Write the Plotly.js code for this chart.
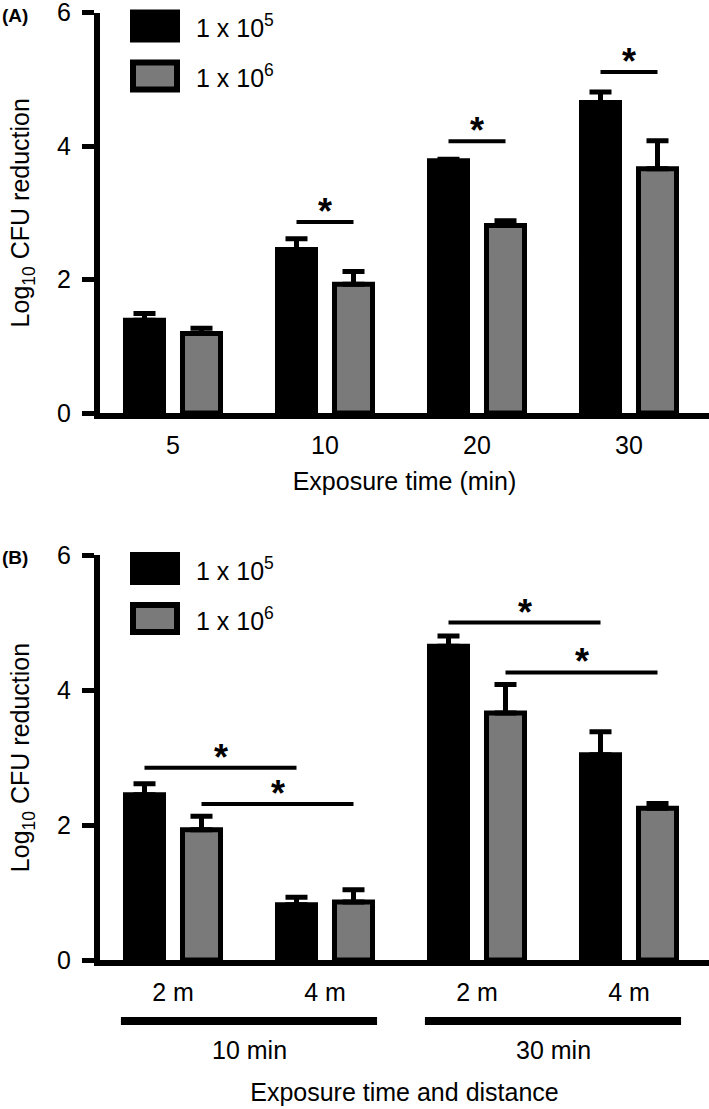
<!DOCTYPE html>
<html><head><meta charset="utf-8">
<script src="https://cdn.plot.ly/plotly-3.0.1.min.js"></script>
<style>html,body{margin:0;padding:0;background:#fff}</style>
</head><body>
<div id="chart" style="width:709px;height:1109px"></div>
<script>
// ---------- data ----------
const seriesNames = ['1 x 10<sup>5</sup>', '1 x 10<sup>6</sup>'];
// Panel A
const timeLabels = ['5', '10', '20', '30'];
const aLow = [1.39, 2.45, 3.78, 4.65];
const aLowErr = [0.10, 0.16, 0.02, 0.16];
const aHigh = [1.19, 1.93, 2.81, 3.66];
const aHighErr = [0.08, 0.19, 0.07, 0.42];
// Panel B
const distLabels = ['2 m', '4 m', '2 m', '4 m'];
const timeGroups = ['10 min', '30 min'];
const timeGroupMembers = [[0, 1], [2, 3]];
const bLow = [2.45, 0.82, 4.65, 3.04];
const bLowErr = [0.16, 0.11, 0.15, 0.34];
const bHigh = [1.93, 0.86, 3.66, 2.25];
const bHighErr = [0.20, 0.18, 0.42, 0.07];
// significance bars (asterisks)
const sigAGroup = [1, 2, 3];
const sigALevel = [2.86, 4.07, 5.11];
const sigBFrom = [0, 0, 2, 2];
const sigBTo = [1, 1, 3, 3];
const sigBSeries = [0, 1, 0, 1];
const sigBLevel = [2.85, 2.31, 5.0, 4.26];

// ---------- styling ----------
const FONT = 'Liberation Sans, Arial, Helvetica, sans-serif';
const colors = ['#000000', '#7a7a7a'];
const W = 709, H = 1109;
const plotLeft = 100;
const panels = [{top: 12.5, bottom: 413}, {top: 555, bottom: 960}];
const bargap = 0.25, bargroupgap = 0.333;
const slot = (1 - bargap) / 2;
const barOff = [-slot / 2, slot / 2];
const barHalf = slot * (1 - bargroupgap) / 2;
const TXT = 25;

const idxA = timeLabels.map((_, i) => i);
const idxB = distLabels.map((_, i) => i);
const zeros = n => new Array(n).fill(0);

function barTrace(x, y, err, s, xa, ya) {
  return {
    type: 'bar', x: x, y: y, name: seriesNames[s], xaxis: xa, yaxis: ya,
    showlegend: false, cliponaxis: false,
    marker: {color: colors[s], line: {color: '#000', width: 5}},
    error_y: {type: 'data', array: err, arrayminus: zeros(err.length), symmetric: false,
              color: '#000', thickness: 5, width: 11}
  };
}

const data = [
  barTrace(idxA, aLow, aLowErr, 0, 'x', 'y'),
  barTrace(idxA, aHigh, aHighErr, 1, 'x', 'y'),
  barTrace(idxB, bLow, bLowErr, 0, 'x2', 'y2'),
  barTrace(idxB, bHigh, bHighErr, 1, 'x2', 'y2')
];

const shapes = [], annotations = [];
const STAR = {size: 36, family: FONT, color: '#000', weight: 'bold'};
function sigBar(x0, x1, yv, xa, ya) {
  shapes.push({type: 'line', xref: xa, yref: ya, x0: x0, x1: x1, y0: yv, y1: yv,
               line: {color: '#000', width: 4}});
  annotations.push({xref: xa, yref: ya, x: (x0 + x1) / 2, y: yv, text: '<b>*</b>',
                    showarrow: false, yanchor: 'bottom', yshift: -12, font: STAR});
}
sigAGroup.forEach((g, i) => sigBar(g + barOff[0], g + barOff[1], sigALevel[i], 'x', 'y'));
sigBLevel.forEach((lv, i) => sigBar(sigBFrom[i] + barOff[sigBSeries[i]], sigBTo[i] + barOff[sigBSeries[i]], lv, 'x2', 'y2'));

// group underline + label in panel B
const py = p => (H - p) / H; // pixel -> paper
timeGroups.forEach((t, i) => {
  const m = timeGroupMembers[i];
  const x0 = m[0] + barOff[0] - barHalf - 0.03, x1 = m[1] + barOff[1] + barHalf + 0.03;
  shapes.push({type: 'line', xref: 'x2', yref: 'paper', x0: x0, x1: x1, y0: py(1021), y1: py(1021),
               line: {color: '#000', width: 8}});
  annotations.push({xref: 'x2', yref: 'paper', x: (m[0] + m[1]) / 2, y: py(1050), text: t,
                    showarrow: false, yanchor: 'middle', font: {size: TXT, family: FONT, color: '#000'}});
});

// custom legends (big swatches)
panels.forEach((p, k) => {
  const xs = k === 0 ? 'x' : 'x2', ys = k === 0 ? 'y' : 'y2';
  const h = p.bottom - p.top, w = W - plotLeft;
  const fx = px => (px - plotLeft) / w;
  const fy = px => (p.bottom - px) / h;
  shapes.push({type: 'rect', xref: xs + ' domain', yref: ys + ' domain',
               x0: fx(130), x1: fx(180), y0: fy(p.top - 3), y1: fy(p.top + 30),
               fillcolor: colors[0], line: {width: 0}});
  shapes.push({type: 'rect', xref: xs + ' domain', yref: ys + ' domain',
               x0: fx(133), x1: fx(177), y0: fy(p.top + 50), y1: fy(p.top + 77),
               fillcolor: colors[1], line: {width: 6, color: '#000'}});
  [p.top + 13.5, p.top + 63.5].forEach((cy, s) => {
    annotations.push({xref: xs + ' domain', yref: ys + ' domain', x: fx(194), y: fy(cy),
                      xanchor: 'left', yanchor: 'middle', showarrow: false, text: seriesNames[s],
                      font: {size: TXT, family: FONT, color: '#000'}});
  });
});

// panel letters
[['(A)', 15], ['(B)', 558]].forEach(([t, yy]) => {
  annotations.push({xref: 'paper', yref: 'paper', x: 0, y: py(yy), xanchor: 'left', yanchor: 'middle',
                    text: '<b>' + t + '</b>', showarrow: false, font: {size: 19, family: FONT, color: '#000'}});
});

const tickFont = {size: TXT, family: FONT, color: '#000'};
const xRange = [-(173 - plotLeft) / 152, (W - 173) / 152];
function yAxis(p) {
  return {domain: [py(p.bottom), py(p.top)], range: [0, 6], tickvals: [0, 2, 4, 6],
          showline: true, linewidth: 6, linecolor: '#000', ticks: 'outside', ticklen: 12,
          tickwidth: 5, tickcolor: '#000', showgrid: false, zeroline: false,
          tickfont: tickFont, ticklabelstandoff: 6, ticklabeloverflow: 'allow',
          title: {text: 'Log<sub>10</sub> CFU reduction', font: {size: TXT, family: FONT, color: '#000'}, standoff: 22}};
}
function xAxis(labels, title, standoff, anchor) {
  return {domain: [plotLeft / W, 1], range: xRange, tickmode: 'array',
          tickvals: labels.map((_, i) => i), ticktext: labels, anchor: anchor,
          showline: true, linewidth: 6, linecolor: '#000', ticks: '', showgrid: false, zeroline: false,
          tickfont: tickFont, ticklabelstandoff: 5, ticklabeloverflow: 'allow',
          title: {text: title, font: {size: TXT, family: FONT, color: '#000'}, standoff: standoff}};
}

const layout = {
  width: W, height: H, margin: {l: 0, r: 0, t: 0, b: 0},
  paper_bgcolor: '#fff', plot_bgcolor: '#fff',
  barmode: 'group', bargap: bargap, bargroupgap: bargroupgap,
  showlegend: false,
  xaxis: xAxis(timeLabels, 'Exposure time (min)', 16, 'y'),
  yaxis: yAxis(panels[0]),
  xaxis2: xAxis(distLabels, 'Exposure time and distance', 80, 'y2'),
  yaxis2: yAxis(panels[1]),
  shapes: shapes, annotations: annotations,
  font: {family: FONT, color: '#000'}
};

Plotly.newPlot('chart', data, layout, {displayModeBar: false, staticPlot: true});
</script>
</body></html>
